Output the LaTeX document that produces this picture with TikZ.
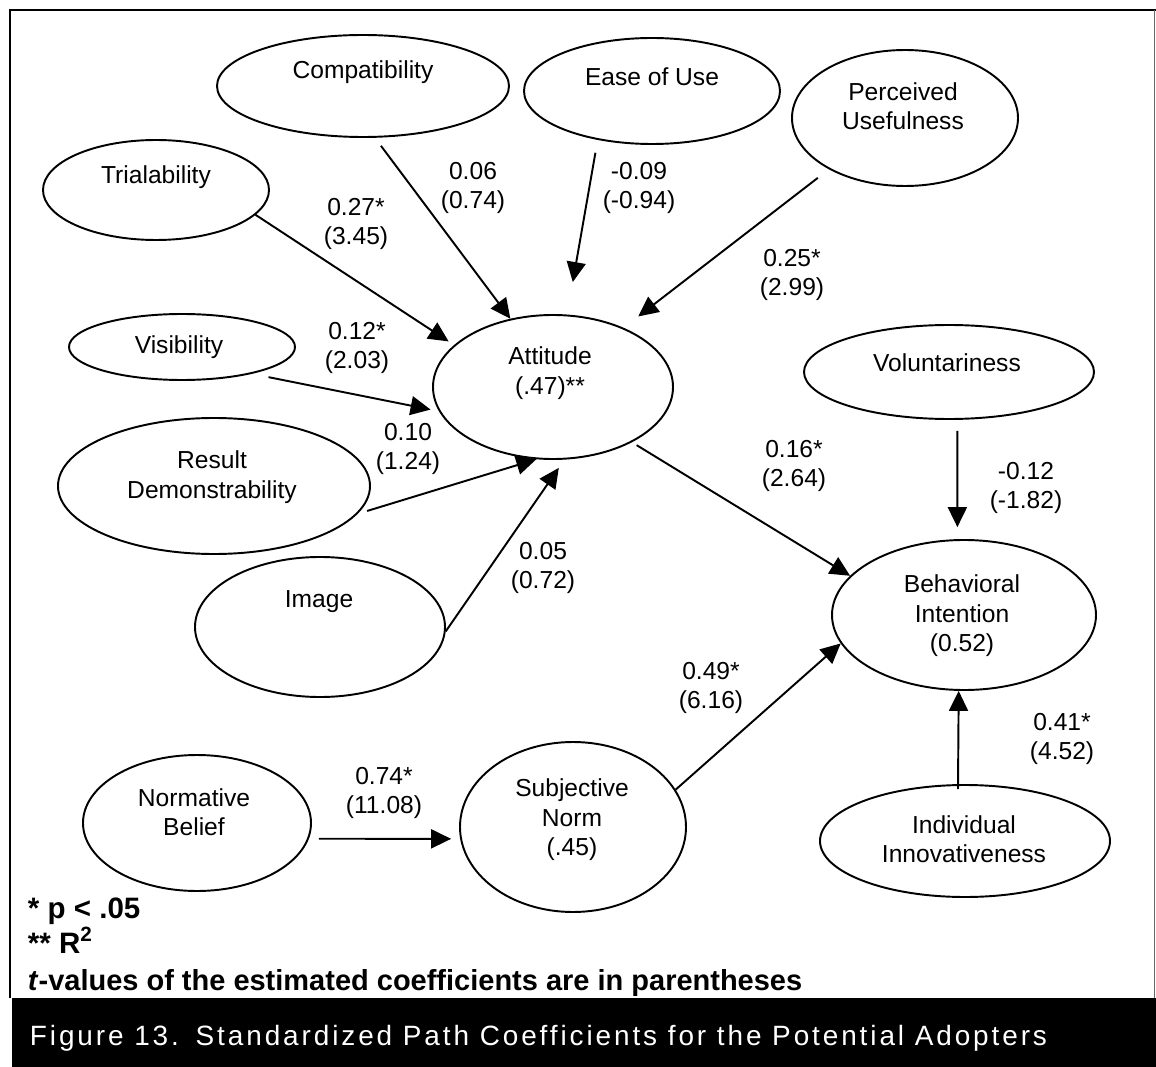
\documentclass[tikz,border=0pt]{standalone}
\usepackage{fontspec}
\setmainfont{Liberation Sans}
\newfontfamily\capfont[LetterSpace=10.4]{Liberation Sans}
\usetikzlibrary{shapes.geometric,arrows.meta}

\begin{document}
\begin{tikzpicture}[x=0.02cm, y=-0.02cm, ->, >={Triangle[length=0.4cm,width=0.38cm]},
    line width=1.1pt,
    construct/.style={ellipse, draw, inner sep=0pt},
    oval size/.style 2 args={minimum width=#1*0.02cm, minimum height=#2*0.02cm},
    txt/.style={align=center, inner sep=0pt, font=\fontsize{14}{16.8}\selectfont},
    coef/.style={align=center, inner sep=0pt, font=\fontsize{14}{16.8}\selectfont},
    note/.style={anchor=base west, inner sep=0pt, font=\fontsize{16.8}{19}\selectfont\bfseries}]

    \useasboundingbox (0,0) rectangle (1156,1067);

    % frame and caption bar
    \draw[-] (10,998) -- (10,10) -- (1156,10);
    \draw[-, line width=0.4pt, black!60] (1154,10) -- (1154,998);
    \fill[black] (12,998) rectangle (1156,1067);

    % constructs
    \node[construct, oval size={292}{102}] (compat) at (363,86) {};
    \node[construct, oval size={256}{106}] (ease) at (652,91) {};
    \node[construct, oval size={226}{136}] (pu) at (905,118) {};
    \node[construct, oval size={226}{100}] (trial) at (156,190) {};
    \node[construct, oval size={226}{66}] (vis) at (182,347) {};
    \node[construct, oval size={240}{144}] (att) at (553,387) {};
    \node[construct, oval size={290}{94}] (vol) at (949,372) {};
    \node[construct, oval size={312}{136}] (rd) at (214,486) {};
    \node[construct, oval size={250}{140}] (img) at (320,627) {};
    \node[construct, oval size={264}{150}] (bi) at (964,615) {};
    \node[construct, oval size={228}{136}] (nb) at (197,823) {};
    \node[construct, oval size={226}{170}] (sn) at (573,827) {};
    \node[construct, oval size={290}{112}] (ii) at (965,841) {};

    \node[txt] (compatT) at (363,72) {Compatibility};
    \node[txt] (easeT) at (652,77) {Ease of Use};
    \node[txt] (puT) at (903,106) {Perceived\\Usefulness};
    \node[txt] (trialT) at (156,177) {Trialability};
    \node[txt] (visT) at (179,347) {Visibility};
    \node[txt] (attT) at (550,373) {Attitude\\(.47)**};
    \node[txt] (volT) at (947,363) {Voluntariness};
    \node[txt] (rdT) at (212,477) {Result\\Demonstrability};
    \node[txt] (imgT) at (319,602) {Image};
    \node[txt] (biT) at (962,616) {Behavioral\\Intention\\(0.52)};
    \node[txt] (nbT) at (194,812) {Normative\\Belief};
    \node[txt] (snT) at (572,820) {Subjective\\Norm\\(.45)};
    \node[txt] (iiT) at (964,839) {Individual\\Innovativeness};

    % paths into Attitude
    \path (compat.-77.7) edge[shorten <=0.2cm] (att.122.6)
          (ease.-138.1) edge[shorten <=0.26cm, shorten >=0.66cm] (att.79.6)
          (pu.-146.4) edge[shorten <=0.28cm, shorten >=0.37cm] (att.40.2)
          (trial.-14.9) edge[shorten >=0.13cm] (att.157.9)
          (vis.-21.9) edge[shorten <=0.34cm, shorten >=0.17cm] (att.192.3)
          (rd.-11.6) edge[shorten <=0.2cm] (att.257.3)
          (img.-2.3) edge[shorten >=0.2cm] (att.-81.4);

    % paths into Behavioral Intention
    \path (att.-35.5) edge[shorten <=0.11cm] (bi.161.3)
          (vol.-80.3) edge[shorten <=0.22cm, shorten >=0.24cm] (bi.95.3)
          (sn.20.9) edge (bi.193.8)
          (ii.97.1) edge[shorten <=-0.1cm] (bi.-94.6)
          (nb.-8.75) edge[shorten <=0.2cm, shorten >=0.18cm] (sn.186.6);

    % coefficients (t-values)
    \node[coef] (wCompat) at (473,188) {0.06\\(0.74)};
    \node[coef] (wEase) at (639,188) {-0.09\\(-0.94)};
    \node[coef] (wTrial) at (356,224) {0.27*\\(3.45)};
    \node[coef] (wPu) at (792,275) {0.25*\\(2.99)};
    \node[coef] (wVis) at (357,348) {0.12*\\(2.03)};
    \node[coef] (wRd) at (408,449) {0.10\\(1.24)};
    \node[coef] (wImg) at (543,568) {0.05\\(0.72)};
    \node[coef] (wAtt) at (794,466) {0.16*\\(2.64)};
    \node[coef] (wVol) at (1026,488) {-0.12\\(-1.82)};
    \node[coef] (wSn) at (711,688) {0.49*\\(6.16)};
    \node[coef] (wIi) at (1062,739) {0.41*\\(4.52)};
    \node[coef] (wNb) at (384,793) {0.74*\\(11.08)};

    % notes
    \node[note] (pNote) at (27,918) {* p < .05};
    \node[note] (rNote) at (27,953) {** R\textsuperscript{2}};
    \node[note, font=\fontsize{16.5}{19}\selectfont\bfseries] (tNote) at (27,990) {\textit{t}-values of the estimated coefficients are in parentheses};

    \node[anchor=base west, inner sep=0pt, text=white, font={\capfont\fontsize{15.9}{19}\selectfont}] (caption) at (29,1045)
        {Figure 13.\hspace{0.6em}Standardized Path Coefficients for the Potential Adopters};
\end{tikzpicture}
\end{document}
